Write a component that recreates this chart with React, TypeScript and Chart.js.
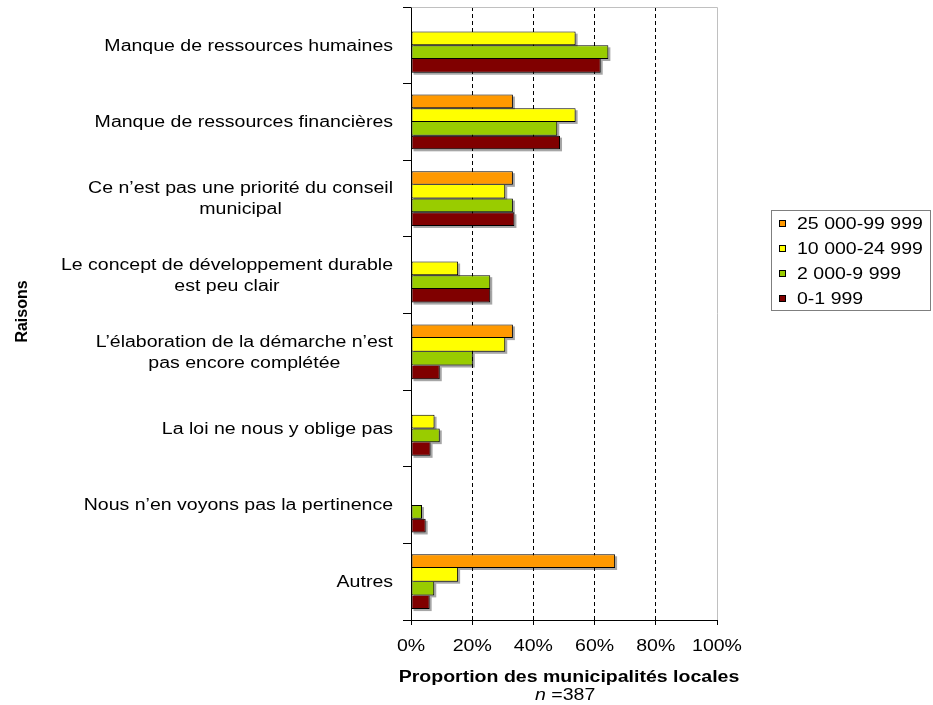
import React, { useEffect, useRef } from 'react';
import { Chart, registerables } from 'chart.js';

Chart.register(...registerables);

// ---- Data ----
const categories: string[][] = [
  ['Manque de ressources humaines'],
  ['Manque de ressources financières'],
  ['Ce n\u2019est pas une priorité du conseil', 'municipal'],
  ['Le concept de développement durable', 'est peu clair'],
  ['L\u2019élaboration de la démarche n\u2019est', 'pas encore complétée'],
  ['La loi ne nous y oblige pas'],
  ['Nous n\u2019en voyons pas la pertinence'],
  ['Autres'],
];
const seriesNames = ['25 000-99 999', '10 000-24 999', '2 000-9 999', '0-1 999'];
const seriesColors = ['#FF9900', '#FFFF00', '#99CC00', '#800000'];
const pop25000: (number | null)[] = [null, 33.3, 33.3, null, 33.3, null, null, 66.7];
const pop10000: (number | null)[] = [53.8, 53.8, 30.8, 15.4, 30.8, 7.7, null, 15.4];
const pop2000: (number | null)[] = [64.5, 47.8, 33.3, 25.9, 20.2, 9.4, 3.6, 7.6];
const pop0: (number | null)[] = [62.0, 48.7, 33.8, 25.9, 9.4, 6.4, 4.8, 6.1];
const xTicks = [0, 20, 40, 60, 80, 100];
const xTitle = 'Proportion des municipalités locales';
const yTitle = 'Raisons';
const nLabel = ' =387';

const FONT = '"Liberation Sans", Arial, Helvetica, sans-serif';
const SX = 1.22;

function drawText(ctx: CanvasRenderingContext2D, text: string, x: number, y: number, font: string, align: CanvasTextAlign) {
  ctx.save();
  ctx.translate(x, y);
  ctx.scale(SX, 1);
  ctx.font = font;
  ctx.textAlign = align;
  ctx.textBaseline = 'alphabetic';
  ctx.fillStyle = '#000';
  ctx.fillText(text, 0, 0);
  ctx.restore();
}

const seriesData = [pop25000, pop10000, pop2000, pop0];

const shadowPlugin = {
  id: 'barShadow',
  beforeDatasetsDraw(chart: any) {
    const ctx = chart.ctx;
    const area = chart.chartArea;
    ctx.save();
    // gray frame (top and right)
    ctx.strokeStyle = '#c0c0c0';
    ctx.lineWidth = 1;
    ctx.beginPath();
    ctx.moveTo(Math.round(area.left) + 0.5, Math.round(area.top) + 0.5);
    ctx.lineTo(Math.round(area.right) + 0.5, Math.round(area.top) + 0.5);
    ctx.lineTo(Math.round(area.right) + 0.5, Math.round(area.bottom));
    ctx.stroke();
    ctx.fillStyle = 'rgba(0,0,0,0.35)';
    chart.data.datasets.forEach((_: any, di: number) => {
      const meta = chart.getDatasetMeta(di);
      meta.data.forEach((el: any, i: number) => {
        const v = seriesData[di][i];
        if (v == null) return;
        const h = el.height;
        ctx.fillRect(el.base + 2, el.y - h / 2 + 2, el.x - el.base, h);
      });
    });
    ctx.restore();
  },
};

const textPlugin = {
  id: 'customText',
  afterDraw(chart: any) {
    const ctx: CanvasRenderingContext2D = chart.ctx;
    const yScale = chart.scales.y;
    const xScale = chart.scales.x;
    const regular = `16px ${FONT}`;
    const bold = `bold 16px ${FONT}`;
    // category labels
    categories.forEach((lines, i) => {
      const yc = yScale.getPixelForValue(i);
      ctx.font = regular;
      const blockW = Math.max(...lines.map((l) => ctx.measureText(l).width * SX));
      const cx = 393 - blockW / 2;
      lines.forEach((line, j) => {
        const y = yc + 5.4 + (j - (lines.length - 1) / 2) * 21;
        drawText(ctx, line, cx, y, regular, 'center');
      });
    });
    // x tick labels
    xTicks.forEach((v) => {
      drawText(ctx, `${v}%`, xScale.getPixelForValue(v), 651, regular, 'center');
    });
    // x title
    drawText(ctx, xTitle, 569, 682, bold, 'center');
    // n = 387
    ctx.font = `italic 16px ${FONT}`;
    const nW = ctx.measureText('n').width * SX;
    drawText(ctx, 'n', 535, 700, `italic 16px ${FONT}`, 'left');
    drawText(ctx, nLabel, 535 + nW, 700, regular, 'left');
    // y title
    ctx.save();
    ctx.translate(27, 311.5);
    ctx.rotate(-Math.PI / 2);
    ctx.font = bold;
    ctx.textAlign = 'center';
    ctx.textBaseline = 'alphabetic';
    ctx.fillStyle = '#000';
    ctx.fillText(yTitle, 0, 0);
    ctx.restore();
    // legend
    ctx.save();
    ctx.strokeStyle = '#7f7f7f';
    ctx.lineWidth = 1;
    ctx.strokeRect(771.5, 210.5, 159, 100);
    seriesNames.forEach((name, k) => {
      const c = 223.1 + k * 25.2;
      const top = Math.round(c - 3.5);
      ctx.fillStyle = seriesColors[k];
      ctx.fillRect(779, top, 7, 7);
      ctx.strokeStyle = '#000';
      ctx.strokeRect(779.5, top + 0.5, 6, 6);
      drawText(ctx, name, 797, c + 5.5, regular, 'left');
    });
    ctx.restore();
  },
};

export default function App() {
  const ref = useRef<HTMLCanvasElement>(null);
  useEffect(() => {
    if (!ref.current) return;
    const chart = new Chart(ref.current, {
      type: 'bar',
      data: {
        labels: categories.map((c) => c.join(' ')),
        datasets: seriesNames.map((name, di) => ({
          label: name,
          data: seriesData[di] as any,
          backgroundColor: seriesColors[di],
          borderColor: '#000',
          borderSkipped: false,
          borderWidth: (ctx: any) => {
            const i = ctx.dataIndex;
            const cur = seriesData[di][i] ?? 0;
            const prev = di > 0 ? seriesData[di - 1][i] ?? 0 : 0;
            const top = di > 0 && prev >= cur ? 0 : 1;
            return { top, bottom: 1, left: 1, right: 1 };
          },
          categoryPercentage: 0.715,
          barPercentage: 1,
        })),
      },
      options: {
        indexAxis: 'y',
        responsive: false,
        animation: false,
        events: [],
        layout: { padding: { left: 403, right: 216, top: 7, bottom: 80 } },
        plugins: {
          legend: { display: false },
          tooltip: { enabled: false },
          title: { display: false },
        },
        scales: {
          x: {
            type: 'linear',
            min: 0,
            max: 100,
            ticks: { display: false, stepSize: 20 },
            afterFit: (s: any) => {
              s.height = 5;
            },
            grid: {
              color: (ctx: any) =>
                ctx.tick && (ctx.tick.value === 0 || ctx.tick.value === 100) ? 'rgba(0,0,0,0)' : '#000',
              lineWidth: 1,
              drawTicks: true,
              tickLength: 5,
              tickColor: '#000',
              tickBorderDash: [],
            },
            border: { display: true, color: '#000', width: 1, dash: [4, 3] },
          },
          y: {
            type: 'category',
            offset: true,
            ticks: { display: false },
            afterFit: (s: any) => {
              s.width = 8;
            },
            grid: {
              offset: true,
              drawOnChartArea: false,
              drawTicks: true,
              tickLength: 8,
              tickColor: '#000',
              color: '#000',
            },
            border: { display: true, color: '#000', width: 1 },
          },
        },
      },
      plugins: [shadowPlugin, textPlugin],
    });
    return () => chart.destroy();
  }, []);
  return (
    <div style={{ position: 'absolute', left: 0, top: 0, width: 933, height: 705, background: '#fff' }}>
      <canvas ref={ref} width={933} height={705} style={{ display: 'block' }} />
    </div>
  );
}
